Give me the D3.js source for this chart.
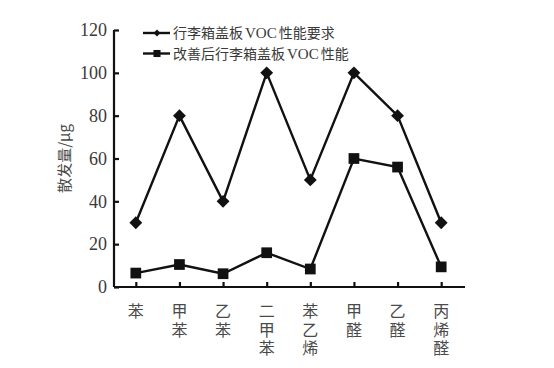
<!DOCTYPE html>
<html>
<head>
<meta charset="utf-8">
<script src="https://cdn.jsdelivr.net/npm/d3@7"></script>
<style>
  body { margin: 0; background: #fff; }
  text { fill: #3a3a3a; }
</style>
</head>
<body>
<div id="chart"></div>
<script>
// Chart data
const categories = ["苯", "甲苯", "乙苯", "二甲苯", "苯乙烯", "甲醛", "乙醛", "丙烯醛"];
const requirement = [30, 80, 40, 100, 50, 100, 80, 30];
const improved = [6.5, 10.5, 6.2, 16, 8.4, 60, 56, 9.4];
const yTicks = [0, 20, 40, 60, 80, 100, 120];
const seriesNames = [["行李箱盖板", "VOC", "性能要求"], ["改善后行李箱盖板", "VOC", "性能"]];

const W = 554, H = 368;
const margin = { left: 114, right: 91, top: 30, bottom: 81 };
const cjk = "'Noto Sans CJK SC', sans-serif";
const serif = "'Liberation Serif', 'Times New Roman', serif";

const svg = d3.select('#chart').append('svg')
    .attr('width', W)
    .attr('height', H);

const x = d3.scalePoint()
    .domain(categories)
    .range([margin.left, W - margin.right])
    .padding(0.5);

const y = d3.scaleLinear()
    .domain([0, 120])
    .range([H - margin.bottom, margin.top]);

// Axes (ticks point inward)
const yAxis = svg.append('g')
    .attr('transform', `translate(${margin.left},0)`)
    .call(d3.axisLeft(y).tickValues(yTicks).tickSizeInner(-5).tickSizeOuter(0).tickPadding(7));
yAxis.selectAll('text')
    .style('font-family', serif)
    .style('font-size', '18px')
    .style('fill', '#3a3a3a');

const xAxis = svg.append('g')
    .attr('transform', `translate(0,${H - margin.bottom})`)
    .call(d3.axisBottom(x).tickSizeInner(-5).tickSizeOuter(0).tickFormat(''));

svg.selectAll('.domain, .tick line')
    .attr('stroke', '#111')
    .attr('stroke-width', 2.2);
xAxis.select('.domain').attr('d', `M${margin.left},0H${W - margin.right + 2}`);
yAxis.select('.domain').attr('d', `M0,${y(120)}V${y(0)}`);

// Vertical x labels (top-to-bottom writing mode)
svg.append('g').selectAll('text')
    .data(categories)
    .join('text')
    .attr('x', d => x(d))
    .attr('y', H - margin.bottom + 16)
    .style('writing-mode', 'vertical-rl')
    .style('letter-spacing', '2.5px')
    .style('font-family', cjk)
    .style('font-size', '16px')
    .style('fill', '#4a4a4a')
    .text(d => d);

// Y label
svg.append('text')
    .attr('transform', `translate(70,${y(60)}) rotate(-90)`)
    .attr('text-anchor', 'middle')
    .style('font-family', cjk)
    .style('font-size', '15px')
    .style('fill', '#4a4a4a')
    .text('散发量/μg');

// Lines
const line = d3.line()
    .x((d, i) => x(categories[i]))
    .y(d => y(d));

[requirement, improved].forEach(s => {
    svg.append('path')
        .datum(s)
        .attr('fill', 'none')
        .attr('stroke', '#111')
        .attr('stroke-width', 2.4)
        .attr('d', line);
});

const diamond = d3.symbol().type(d3.symbolDiamond2).size(105);
const square = d3.symbol().type(d3.symbolSquare).size(115);

svg.append('g').selectAll('path')
    .data(requirement)
    .join('path')
    .attr('transform', (d, i) => `translate(${x(categories[i])},${y(d)})`)
    .attr('d', diamond)
    .attr('fill', '#111');

svg.append('g').selectAll('path')
    .data(improved)
    .join('path')
    .attr('transform', (d, i) => `translate(${x(categories[i])},${y(d)})`)
    .attr('d', square)
    .attr('fill', '#111');

// Legend
const legend = svg.append('g').attr('transform', 'translate(143,33)');
const legendSymbols = [d3.symbol().type(d3.symbolDiamond2).size(30), d3.symbol().type(d3.symbolSquare).size(50)];
seriesNames.forEach((parts, i) => {
    const g = legend.append('g').attr('transform', `translate(0,${i * 20.5})`);
    g.append('line')
        .attr('x1', 0).attr('x2', 27)
        .attr('stroke', '#111')
        .attr('stroke-width', 2.4);
    g.append('path')
        .attr('transform', 'translate(14,0)')
        .attr('d', legendSymbols[i])
        .attr('fill', '#111');
    const t = g.append('text')
        .attr('x', 30)
        .attr('y', 5)
        .style('font-family', cjk)
        .style('font-size', '14px')
        .style('fill', '#3a3a3a');
    parts.forEach((p, j) => {
        t.append('tspan')
            .style('font-family', j === 1 ? serif : cjk)
            .style('font-size', j === 1 ? '15px' : '14px')
            .attr('dx', j === 0 ? 0 : 2)
            .text(p);
    });
});
</script>
</body>
</html>
